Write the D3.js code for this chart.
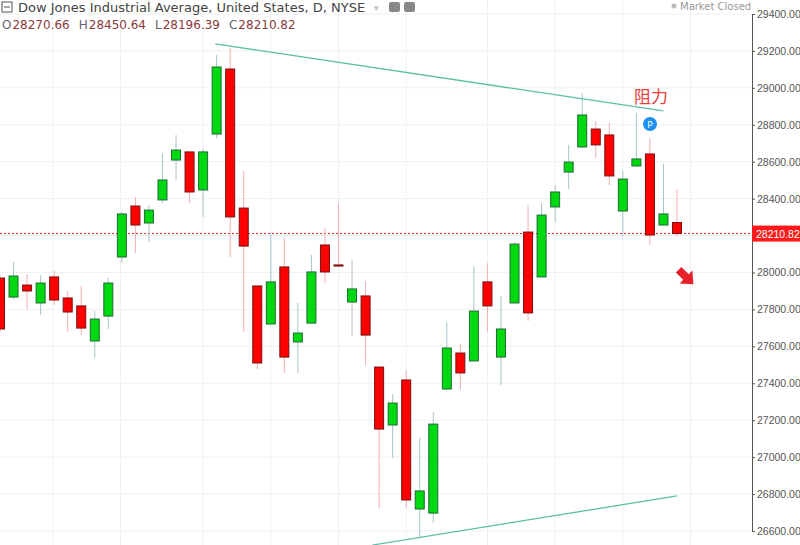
<!DOCTYPE html>
<html><head><meta charset="utf-8">
<script src="https://cdn.jsdelivr.net/npm/d3@7"></script>
<style>body{margin:0;background:#fff;}svg{display:block;font-family:"DejaVu Sans",sans-serif;}</style>
</head><body><svg id="c" width="800" height="545"></svg>
<script>
const opens  = [27970,27867,27932,27835,27976,27862,27819,27629,27764,28084,28360,28268,28393,28609,28653,28447,28750,29102,28349,27927,27721,28030,27624,27726,28149,28041,27840,27873,27488,27174,27418,26719,26697,27369,27564,27521,27949,27542,27835,28219,27976,28355,28544,28680,28777,28745,28333,28577,28642,28257,28270.66];
const highs  = [27986,28057,27992,27986,28008,27900,27927,27791,27970,28328,28409,28366,28647,28745,28653,28669,29178,29216,28550,27927,28219,28187,27835,28095,28241,28376,28068,27954,27488,27342,27472,27104,27244,27732,27613,28035,28051,27873,28165,28366,28376,28474,28691,28972,28820,28810,28550,28864,28728,28588,28450.64];
const lows   = [27678,27856,27797,27770,27824,27678,27661,27537,27694,28051,28106,28165,28376,28501,28376,28301,28728,28084,27678,27477,27721,27456,27456,27726,27943,28030,27656,27499,26724,26995,26724,26562,26643,27364,27364,27521,27678,27391,27835,27737,27976,28273,28452,28674,28620,28474,28192,28577,28149,28257,28196.39];
const closes = [27694,27981,27900,27943,27851,27786,27699,27748,27943,28317,28257,28338,28501,28663,28436,28653,29113,28301,28143,27510,27949,27542,27672,28003,28003,28035,27911,27661,27152,27293,26768,26817,27179,27591,27456,27791,27819,27694,28154,27781,28311,28436,28598,28853,28691,28523,28506,28615,28203,28317,28210.82];
const yTicks = [26600,26800,27000,27200,27400,27600,27800,28000,28200,28400,28600,28800,29000,29200,29400];
const vGridIdx = [3.9,8.9,15,20,25,30,36,41,46,51];
const resistLine = [[15.9,29238],[49,28875]];
const supportLine = [[27.5,26524],[50,26790]];
const lastClose = 28210.82;

const svg = d3.select("#c");
const x = d3.scaleLinear().domain([0,50]).range([0,677]);
const y = d3.scaleLinear().domain([26600,29400]).range([531,14]);
const plotR = 752;
const axFont = "Liberation Sans, Arial, sans-serif";

svg.append("g").selectAll("line").data(yTicks).join("line")
  .attr("x1",0).attr("x2",plotR).attr("y1",d=>y(d)).attr("y2",d=>y(d))
  .attr("stroke","#eef0f2").attr("stroke-width",1);
svg.append("g").selectAll("line").data(vGridIdx).join("line")
  .attr("x1",d=>x(d)).attr("x2",d=>x(d)).attr("y1",0).attr("y2",545)
  .attr("stroke","#eef0f2").attr("stroke-width",1);

const ax = svg.append("g").attr("transform",`translate(${plotR},0)`)
  .call(d3.axisRight(y).tickValues(yTicks).tickFormat(d3.format(".2f")).tickSize(3));
ax.select(".domain").attr("stroke","#555");
ax.selectAll(".tick line").attr("stroke","#555");
ax.selectAll(".tick text").attr("fill","#555").attr("font-size",10.5).attr("font-family",axFont).attr("x",5)
  .attr("display",d=>Math.abs(y(d)-y(lastClose))<12?"none":null);

svg.append("line").attr("x1",0).attr("x2",plotR).attr("y1",y(lastClose)).attr("y2",y(lastClose))
  .attr("stroke","#e02020").attr("stroke-dasharray","2,2").attr("stroke-width",1);

const data = opens.map((o,i)=>({i,o,h:highs[i],l:lows[i],c:closes[i]}));
const g = svg.append("g");
const w = 9;
g.selectAll("line.w").data(data).join("line")
  .attr("x1",d=>x(d.i)).attr("x2",d=>x(d.i)).attr("y1",d=>y(d.h)).attr("y2",d=>y(d.l))
  .attr("stroke",d=>d.c>=d.o?"#a9c4cc":"#f2b0b0").attr("stroke-width",1);
g.selectAll("rect").data(data).join("rect")
  .attr("x",d=>x(d.i)-w/2).attr("width",w)
  .attr("y",d=>y(Math.max(d.o,d.c))).attr("height",d=>Math.max(1,Math.abs(y(d.o)-y(d.c))))
  .attr("fill",d=>d.c>=d.o?"#00d80f":"#ff0000")
  .attr("stroke",d=>d.c>=d.o?"#1f6b35":"#7a1010").attr("stroke-width",1);

const ln = d3.line().x(d=>x(d[0])).y(d=>y(d[1]));
svg.append("path").attr("d",ln(resistLine)).attr("stroke","#5bbfa8").attr("stroke-width",1.3).attr("fill","none");
svg.append("path").attr("d",ln(supportLine)).attr("stroke","#5bbfa8").attr("stroke-width",1.3).attr("fill","none");

svg.append("rect").attr("x",plotR).attr("y",y(lastClose)-8).attr("width",48).attr("height",16).attr("fill","#ff1a1a");
svg.append("text").attr("x",plotR+4).attr("y",y(lastClose)+4).attr("fill","#fff").attr("font-size",10.5)
  .attr("font-family",axFont).text(d3.format(".2f")(lastClose));

svg.append("text").attr("x",634).attr("y",103).attr("fill","#e8403a").attr("font-size",17)
  .attr("font-family","Noto Sans CJK SC").text("阻力");
svg.append("circle").attr("cx",650).attr("cy",124).attr("r",7).attr("fill","#1e90f0");
svg.append("text").attr("x",650).attr("y",128).attr("text-anchor","middle").attr("fill","#fff").attr("font-size",9).text("P");
svg.append("path").attr("transform","translate(686,277) rotate(-45) scale(1.3)")
  .attr("d","M-3,-8 L3,-8 L3,0 L7,0 L0,8 L-7,0 L-3,0 Z").attr("fill","#e8202a");

svg.append("rect").attr("x",2).attr("y",2).attr("width",10).attr("height",10).attr("fill","none").attr("stroke","#555");
svg.append("line").attr("x1",4).attr("x2",10).attr("y1",7).attr("y2",7).attr("stroke","#555");
svg.append("text").attr("x",18).attr("y",12).attr("font-size",13).attr("fill","#444")
  .text("Dow Jones Industrial Average, United States, D, NYSE");
svg.append("text").attr("x",374).attr("y",11).attr("font-size",9).attr("fill","#bbb").text("▾");
svg.append("rect").attr("x",389).attr("y",2).attr("width",11).attr("height",10).attr("rx",2).attr("fill","#888");
svg.append("rect").attr("x",404).attr("y",2).attr("width",11).attr("height",10).attr("rx",2).attr("fill","#888");
const hdr = svg.append("text").attr("x",2).attr("y",29).attr("font-size",12);
[["O","28270.66"],["H","28450.64"],["L","28196.39"],["C","28210.82"]].forEach(([k,v],i)=>{
  hdr.append("tspan").attr("fill","#666").attr("dx",i?9:0).text(k);
  hdr.append("tspan").attr("fill","#8b3a3a").attr("dx",1).text(v);
});
svg.append("circle").attr("cx",674).attr("cy",6).attr("r",2.5).attr("fill","#bbb");
svg.append("text").attr("x",680).attr("y",10).attr("font-size",10).attr("fill","#999").text("Market Closed");
</script></body></html>
